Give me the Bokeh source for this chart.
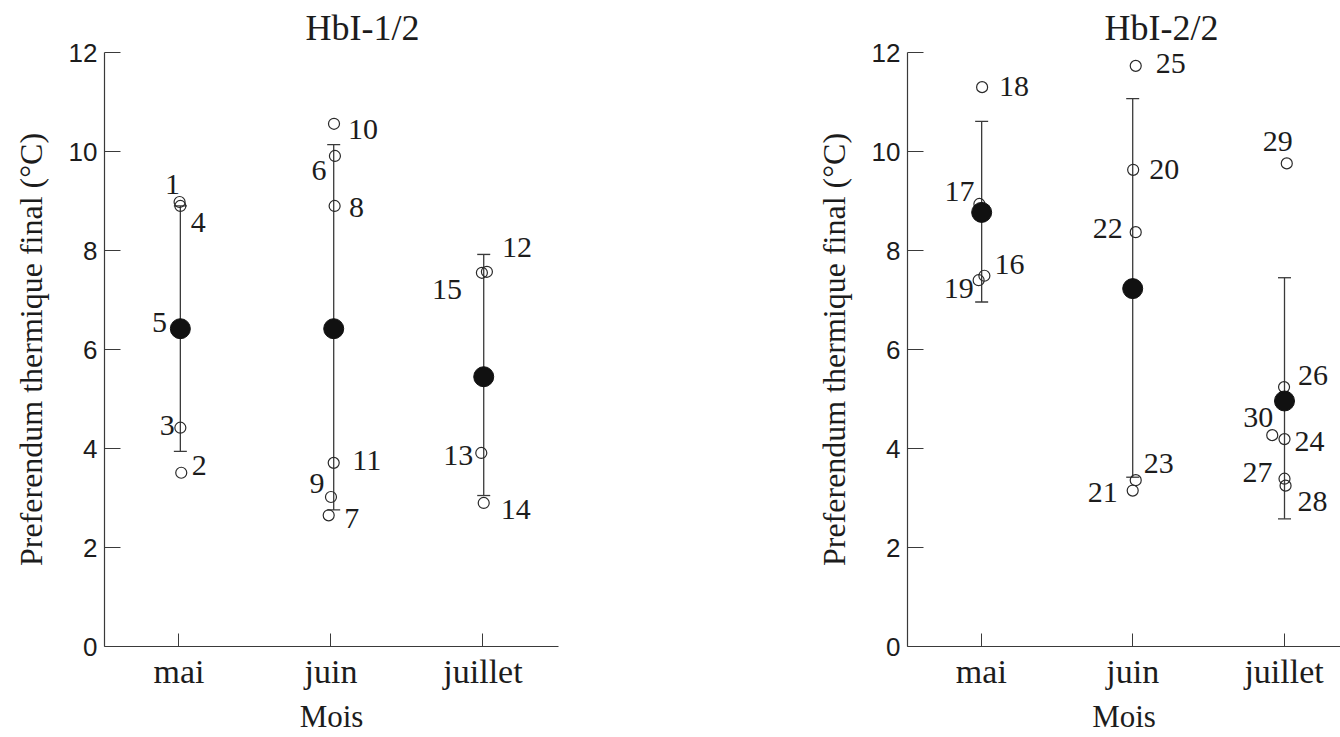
from bokeh.plotting import figure
from bokeh.layouts import row
from bokeh.models import ColumnDataSource, Range1d, FixedTicker
from bokeh.embed import file_html
from bokeh.resources import INLINE
from bokeh.core.properties import value

# ---------------- data ----------------
months = ["mai", "juin", "juillet"]
y_ticks = [0, 2, 4, 6, 8, 10, 12]

# Panel 1 : HbI-1/2
title1 = "HbI-1/2"
ids1 = [1, 2, 3, 4, 5, 6, 7, 8, 9, 10, 11, 12, 13, 14, 15]
month1 = ["mai", "mai", "mai", "mai", "mai",
          "juin", "juin", "juin", "juin", "juin", "juin",
          "juillet", "juillet", "juillet", "juillet"]
vals1 = [8.98, 3.51, 4.42, 8.90, 6.42, 9.91, 2.65, 8.90, 3.02, 10.56, 3.71,
         7.57, 3.91, 2.90, 7.55]
jit1 = [0.004, 0.015, 0.009, 0.009, 0.01, 0.026, -0.015, 0.024, 0.0, 0.02, 0.018,
        0.026, -0.011, 0.005, -0.007]
mean1 = [6.42, 6.42, 5.45]
low1 = [3.94, 2.76, 3.05]
high1 = [8.90, 10.14, 7.92]
barjit1 = [0.009, 0.018, 0.005]

# Panel 2 : HbI-2/2
title2 = "HbI-2/2"
ids2 = [16, 17, 18, 19, 20, 21, 22, 23, 24, 25, 26, 27, 28, 29, 30]
month2 = ["mai", "mai", "mai", "mai", "juin", "juin", "juin", "juin", "juillet",
          "juin", "juillet", "juillet", "juillet", "juillet", "juillet"]
vals2 = [7.49, 8.94, 11.30, 7.40, 9.63, 3.15, 8.37, 3.36, 4.19, 11.73, 5.24,
         3.39, 3.25, 9.76, 4.27]
jit2 = [0.02, -0.013, 0.005, -0.018, 0.003, 0.0, 0.02, 0.02, 0.003, 0.02, 0.0,
        0.003, 0.01, 0.018, -0.078]
mean2 = [8.77, 7.23, 4.96]
low2 = [6.96, 3.42, 2.58]
high2 = [10.61, 11.07, 7.45]
barjit2 = [0.002, 0.0, 0.003]

# ---------------- label placement (screen px) ----------------
lab_dx1 = [-7, 18, -13, 18, -21, -16, 23, 22, -14, 29, 33, 30, -23, 32, -35]
lab_dy1 = [-17, -7, -2, 17, -6, 15, 3, 2, -14, 6, -2, -24, 3, 7, 17]
lab_dx2 = [25, -20, 32, -20, 31, -30, -28, 23, 25, 35, 29, -27, 27, -9, -14]
lab_dy2 = [-11, -12, -1, 8, 0, 2, -4, -17, 2, -2, -12, -6, 16, -22, -18]

SERIF = "Liberation Serif"
SANS = "Liberation Sans"
TXT = "#1c1c1c"
LINE = "#3a3a3a"


def panel(title, ids, pmonth, vals, jit, means, lows, highs, barjit, ldx, ldy,
          width, border_left, border_right, border_top, border_bottom,
          x_start, x_end, title_offset, title_standoff):
    p = figure(width=width, height=737, output_backend="svg", toolbar_location=None,
               x_range=Range1d(x_start, x_end), y_range=Range1d(0, 12),
               min_border_left=border_left, min_border_right=border_right,
               min_border_top=border_top, min_border_bottom=border_bottom)
    p.outline_line_color = None
    p.xgrid.visible = False
    p.ygrid.visible = False
    p.background_fill_color = "white"
    p.border_fill_color = "white"

    p.title.text = title
    p.title.align = "left"
    p.title.offset = title_offset
    p.title.standoff = title_standoff
    p.title.text_font = SERIF
    p.title.text_font_size = "36px"
    p.title.text_font_style = "normal"
    p.title.text_color = TXT

    xi = {m: i for i, m in enumerate(months)}
    xa = p.xaxis[0]
    xa.ticker = FixedTicker(ticks=list(range(len(months))))
    xa.major_label_overrides = {i: m for i, m in enumerate(months)}
    xa.major_tick_in = 13
    xa.major_tick_out = 0
    xa.minor_tick_line_color = None
    xa.major_label_standoff = 6
    xa.major_label_text_font = SERIF
    xa.major_label_text_font_size = "34px"
    xa.major_label_text_color = TXT
    xa.axis_label = "Mois"
    xa.axis_label_text_font = SERIF
    xa.axis_label_text_font_size = "31px"
    xa.axis_label_text_font_style = "normal"
    xa.axis_label_text_color = TXT
    xa.axis_label_standoff = 6
    xa.axis_line_color = LINE
    xa.major_tick_line_color = LINE
    xa.axis_line_width = 1.2

    ya = p.yaxis[0]
    ya.ticker = FixedTicker(ticks=y_ticks)
    ya.major_tick_in = 16
    ya.major_tick_out = 0
    ya.minor_tick_line_color = None
    ya.major_label_standoff = 7
    ya.major_label_text_font = SANS
    ya.major_label_text_font_size = "26px"
    ya.major_label_text_color = TXT
    ya.axis_label = "Preferendum thermique final (°C)"
    ya.axis_label_text_font = SERIF
    ya.axis_label_text_font_size = "32px"
    ya.axis_label_text_font_style = "normal"
    ya.axis_label_text_color = TXT
    ya.axis_label_standoff = 17
    ya.axis_line_color = LINE
    ya.major_tick_line_color = LINE
    ya.axis_line_width = 1.2

    bx = [i + j for i, j in enumerate(barjit)]
    bars = ColumnDataSource(dict(x=bx, lo=lows, hi=highs, m=means))
    p.segment(x0="x", y0="lo", x1="x", y1="hi", source=bars,
              line_color=LINE, line_width=1.3)
    p.scatter("x", "lo", source=bars, marker="dash", size=13,
              line_color=LINE, line_width=1.3)
    p.scatter("x", "hi", source=bars, marker="dash", size=13,
              line_color=LINE, line_width=1.3)

    pts = ColumnDataSource(dict(
        x=[xi[m] + j for m, j in zip(pmonth, jit)],
        y=vals,
        lab=[str(i) for i in ids],
        dx=ldx, dy=ldy))
    p.scatter("x", "y", source=pts, marker="circle", size=11,
              fill_alpha=0, line_color="#2a2a2a", line_width=1.2)
    p.scatter("x", "m", source=bars, marker="circle", size=20,
              fill_color="#111111", line_color="#111111")
    p.text("x", "y", text="lab", source=pts, x_offset="dx", y_offset="dy",
           text_align="center", text_baseline="middle",
           text_font=value(SERIF), text_font_size="30px", text_color=TXT)
    return p


p1 = panel(title1, ids1, month1, vals1, jit1, mean1, low1, high1, barjit1,
           lab_dx1, lab_dy1, width=660, border_left=104, border_right=102,
           border_top=52, border_bottom=91, x_start=-0.49, x_end=2.497,
           title_offset=201, title_standoff=9)
p2 = panel(title2, ids2, month2, vals2, jit2, mean2, low2, high2, barjit2,
           lab_dx2, lab_dy2, width=680, border_left=247, border_right=0,
           border_top=52, border_bottom=91, x_start=-0.488, x_end=2.373,
           title_offset=197, title_standoff=9)

layout = row(p1, p2)
open("out.html", "w").write(file_html(layout, INLINE))
